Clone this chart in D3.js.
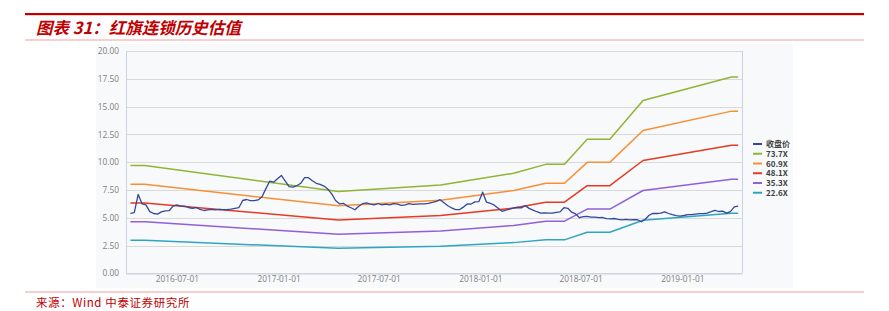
<!DOCTYPE html>
<html><head><meta charset="utf-8">
<script src="https://cdn.jsdelivr.net/npm/d3@7/dist/d3.min.js"></script>
<style>
html,body{margin:0;padding:0;background:#fff;}
svg{display:block;}
</style></head>
<body>
<svg id="c" width="889" height="311"></svg>
<script>
// ---------- data ----------
const seriesNames = ["收盘价", "73.7X", "60.9X", "48.1X", "35.3X", "22.6X"];
const xTickLabels = ["2016-07-01","2017-01-01","2017-07-01","2018-01-01","2018-07-01","2019-01-01"];
const yTickValues = [0, 2.5, 5, 7.5, 10, 12.5, 15, 17.5, 20];

const bandDates = ["2016-04-08","2016-05-04","2017-04-19","2017-10-21","2018-03-02","2018-04-29",
                   "2018-06-02","2018-07-13","2018-08-23","2018-10-22","2019-03-31","2019-04-12"];
const band737 = [9.69, 9.69, 7.35, 7.95, 9.00, 9.80, 9.80, 12.07, 12.07, 15.55, 17.66, 17.66];
const band609 = [8.01, 8.01, 6.07, 6.57, 7.44, 8.10, 8.10, 9.98, 9.98, 12.85, 14.59, 14.59];
const band481 = [6.33, 6.33, 4.80, 5.19, 5.87, 6.40, 6.40, 7.88, 7.88, 10.15, 11.52, 11.52];
const band353 = [4.64, 4.64, 3.52, 3.81, 4.31, 4.69, 4.69, 5.78, 5.78, 7.45, 8.46, 8.46];
const band226 = [2.97, 2.97, 2.25, 2.44, 2.76, 3.01, 3.01, 3.70, 3.70, 4.77, 5.41, 5.41];

const priceDates = [
"2016-04-08","2016-04-15","2016-04-22","2016-04-29","2016-05-06","2016-05-13","2016-05-20","2016-05-27",
"2016-06-03","2016-06-10","2016-06-17","2016-06-24","2016-07-01","2016-07-08","2016-07-15","2016-07-22",
"2016-07-29","2016-08-05","2016-08-12","2016-08-19","2016-08-26","2016-09-02","2016-09-09","2016-09-16",
"2016-09-23","2016-09-30","2016-10-07","2016-10-14","2016-10-21","2016-10-28","2016-11-04","2016-11-11",
"2016-11-18","2016-11-25","2016-12-02","2016-12-09","2016-12-16","2016-12-23","2016-12-30",
"2017-01-06","2017-01-13","2017-01-20","2017-01-27","2017-02-03","2017-02-10","2017-02-17","2017-02-24",
"2017-03-03","2017-03-10","2017-03-17","2017-03-24","2017-03-31","2017-04-07","2017-04-14","2017-04-21",
"2017-04-28","2017-05-05","2017-05-12","2017-05-19","2017-05-26","2017-06-02","2017-06-09","2017-06-16",
"2017-06-23","2017-06-30","2017-07-07","2017-07-14","2017-07-21","2017-07-28","2017-08-04","2017-08-11",
"2017-08-18","2017-08-25","2017-09-01","2017-09-08","2017-09-15","2017-09-22","2017-09-29","2017-10-06",
"2017-10-13","2017-10-20","2017-10-27","2017-11-03","2017-11-10","2017-11-17","2017-11-24","2017-12-01",
"2017-12-08","2017-12-15","2017-12-22","2017-12-29",
"2018-01-05","2018-01-12","2018-01-19","2018-01-26","2018-02-02","2018-02-09","2018-02-16","2018-02-23",
"2018-03-02","2018-03-09","2018-03-16","2018-03-23","2018-03-30","2018-04-06","2018-04-13","2018-04-20",
"2018-04-27","2018-05-04","2018-05-11","2018-05-18","2018-05-25","2018-06-01","2018-06-08","2018-06-15",
"2018-06-22","2018-06-29","2018-07-06","2018-07-13","2018-07-20","2018-07-27","2018-08-03","2018-08-10",
"2018-08-17","2018-08-24","2018-08-31","2018-09-07","2018-09-14","2018-09-21","2018-09-28","2018-10-05",
"2018-10-12","2018-10-19","2018-10-26","2018-11-02","2018-11-09","2018-11-16","2018-11-23","2018-11-30",
"2018-12-07","2018-12-14","2018-12-21","2018-12-28",
"2019-01-04","2019-01-11","2019-01-18","2019-01-25","2019-02-01","2019-02-08","2019-02-15","2019-02-22",
"2019-03-01","2019-03-08","2019-03-15","2019-03-22","2019-03-29","2019-04-05","2019-04-12"];
const priceValues = [
5.40,5.45,7.10,6.25,6.15,5.55,5.38,5.33,
5.52,5.62,5.63,6.05,6.15,6.05,6.04,5.92,
5.85,5.92,5.75,5.65,5.70,5.75,5.70,5.75,
5.72,5.72,5.77,5.84,5.90,6.55,6.64,6.53,
6.53,6.60,6.88,7.62,8.30,8.20,8.50,
8.80,8.30,7.79,7.75,7.88,8.10,8.60,8.60,
8.33,8.10,8.00,7.85,7.58,7.15,6.55,6.25,
6.30,6.05,5.90,5.72,6.03,6.26,6.33,6.23,
6.15,6.28,6.16,6.22,6.16,6.27,6.22,6.11,
6.15,6.26,6.20,6.22,6.24,6.25,6.30,6.38,
6.48,6.62,6.35,6.08,5.88,5.73,5.72,5.95,
6.24,6.23,6.43,6.44,
7.30,6.40,6.30,6.13,5.85,5.58,5.69,5.77,
5.88,5.92,5.89,6.09,5.84,5.69,5.54,5.42,
5.44,5.42,5.42,5.49,5.53,5.90,5.85,5.50,
5.35,5.00,5.09,5.13,5.06,5.06,5.01,5.02,
4.92,4.89,4.93,4.86,4.80,4.85,4.81,4.82,
4.82,4.64,4.87,5.22,5.39,5.38,5.41,5.53,
5.38,5.27,5.18,5.15,
5.20,5.28,5.27,5.32,5.37,5.37,5.42,5.54,
5.67,5.56,5.60,5.41,5.55,5.97,6.05];

const colors = ["#34479a", "#8fb531", "#f98f35", "#e53a23", "#9060d8", "#2ea6c2"];

// ---------- drawing ----------
const svg = d3.select("#c");
const parse = d3.timeParse("%Y-%m-%d");
const L = 126, R = 742, T = 51, B = 273.3;

// header / footer rules
svg.append("rect").attr("x", 25).attr("y", 13).attr("width", 839).attr("height", 2.2).attr("fill", "#c00000");
svg.append("text").attr("x", 36).attr("y", 34)
  .attr("font-family", "'Noto Sans CJK SC', sans-serif").attr("font-size", 16.5)
  .attr("font-weight", "bold").attr("font-style", "italic").attr("fill", "#c00000")
  .text("图表 31：红旗连锁历史估值");
svg.append("rect").attr("x", 25).attr("y", 39.5).attr("width", 839).attr("height", 1).attr("fill", "#f0a0a0");
svg.append("rect").attr("x", 25).attr("y", 291.5).attr("width", 839).attr("height", 1).attr("fill", "#f0a0a0");
svg.append("text").attr("x", 36).attr("y", 307)
  .attr("font-family", "'Noto Sans CJK SC', sans-serif").attr("font-size", 11.5)
  .attr("letter-spacing", 0.6).attr("fill", "#c00000")
  .text("来源：Wind 中泰证券研究所");

// chart panel
svg.append("rect").attr("x", 96).attr("y", 44).attr("width", 697).attr("height", 244).attr("fill", "#f8f9fb");

const x = d3.scaleTime().domain([parse("2016-03-31"), parse("2019-04-19")]).range([L, R]);
const y = d3.scaleLinear().domain([0, 20]).range([B, T]);

// grid
const g = svg.append("g");
g.selectAll("line.grid").data(yTickValues).join("line")
  .attr("x1", L).attr("x2", R)
  .attr("y1", d => Math.round(y(d)) + 0.5).attr("y2", d => Math.round(y(d)) + 0.5)
  .attr("stroke", "#d9d9d9").attr("stroke-width", 1);

// y axis labels
const yAxis = d3.axisLeft(y).tickValues(yTickValues).tickFormat(d3.format(".2f")).tickSize(0).tickPadding(7);
const ya = svg.append("g").attr("transform", `translate(${L},0)`).call(yAxis);
ya.select(".domain").attr("stroke", "#c8d3df");
ya.selectAll("text").attr("font-family", "'Open Sans', sans-serif").attr("font-size", 8.3).attr("fill", "#808080");

// right border
svg.append("line").attr("x1", R + 0.5).attr("x2", R + 0.5).attr("y1", T).attr("y2", B)
  .attr("stroke", "#c8d3df");

// x axis
const xAxis = d3.axisBottom(x).tickValues(xTickLabels.map(parse))
  .tickFormat(d3.timeFormat("%Y-%m-%d")).tickSizeInner(5).tickSizeOuter(0).tickPadding(-2);
const xa = svg.append("g").attr("transform", `translate(0,${Math.round(B) + 0.5})`).call(xAxis);
xa.select(".domain").attr("stroke", "#c8d3df");
xa.selectAll(".tick line").attr("stroke", "#c8d3df");
xa.selectAll("text").attr("font-family", "'Open Sans', sans-serif").attr("font-size", 8.3).attr("fill", "#808080");

// lines
const line = d3.line().x(d => x(d[0])).y(d => y(d[1]));
const bands = [band737, band609, band481, band353, band226];
const bd = bandDates.map(parse);
bands.forEach((b, i) => {
  svg.append("path").datum(bd.map((d, j) => [d, b[j]]))
    .attr("d", line).attr("fill", "none").attr("stroke", colors[i + 1])
    .attr("stroke-width", 1.5).attr("stroke-linejoin", "round");
});
const pd = priceDates.map(parse);
svg.append("path").datum(pd.map((d, j) => [d, priceValues[j]]))
  .attr("d", line).attr("fill", "none").attr("stroke", colors[0])
  .attr("stroke-width", 1.3).attr("stroke-linejoin", "round");

// legend
const lg = svg.append("g");
seriesNames.forEach((n, i) => {
  const yy = 144 + i * 9.75;
  lg.append("line").attr("x1", 753).attr("x2", 762).attr("y1", yy).attr("y2", yy)
    .attr("stroke", colors[i]).attr("stroke-width", 2);
  lg.append("text").attr("x", 766).attr("y", yy + 3)
    .attr("font-family", "'Noto Sans CJK SC', 'Open Sans', sans-serif").attr("font-size", 8)
    .attr("font-weight", "bold").attr("fill", "#404040").text(n);
});
</script>
</body></html>
